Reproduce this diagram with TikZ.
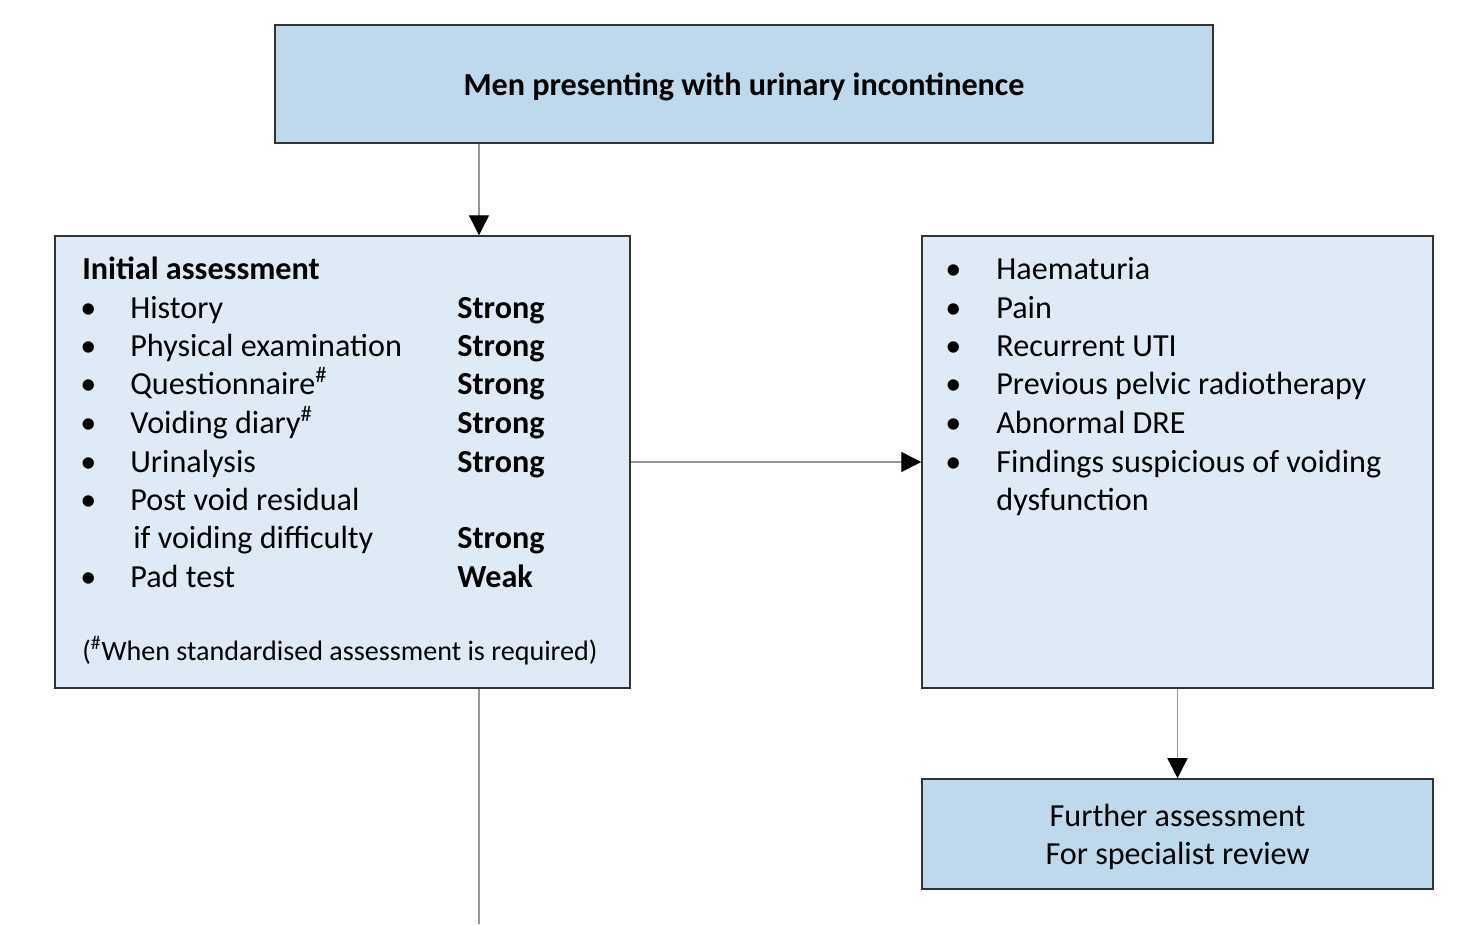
\documentclass[tikz,border=0pt]{standalone}
\usepackage{fontspec}
\setmainfont{Carlito}
\usepackage{tikz}
\usetikzlibrary{arrows.meta}

\definecolor{boxdark}{RGB}{190,216,236}
\definecolor{boxlight}{RGB}{222,234,246}
\definecolor{edgegray}{RGB}{51,51,51}
\definecolor{linegray}{RGB}{150,150,150}

\tikzset{
    box/.style={draw=edgegray, line width=0.9pt, inner sep=0pt},
    arr/.style={draw=linegray, line width=0.8pt, -{Triangle[length=0.4cm, width=0.4cm, black]}},
    item/.style={anchor=base west, inner sep=0pt, font=\fontsize{18.3}{21.6}\selectfont},
    grade/.style={item, font=\fontsize{18.3}{21.6}\selectfont\bfseries},
}

\begin{document}
\begin{tikzpicture}[x=0.02cm, y=-0.02cm]
    \useasboundingbox (0,0) rectangle (1462,924);

    % boxes
    \node [box, fill=boxdark, minimum width=18.76cm, minimum height=2.36cm, text depth=0pt,
        font=\fontsize{18.3}{21.6}\selectfont\bfseries] (top) at (744,84) {Men presenting with urinary incontinence};
    \node [box, fill=boxlight, minimum width=11.5cm, minimum height=9.04cm] (initial) at (342.5,462) {};
    \node [box, fill=boxlight, minimum width=10.22cm, minimum height=9.04cm] (flags) at (1177.5,462) {};
    \node [box, fill=boxdark, minimum width=10.22cm, minimum height=2.2cm, align=center, text depth=0pt,
        font=\fontsize{18.3}{21.6}\selectfont] (review) at (1177.5,834) {Further assessment\\For specialist review};

    % initial assessment list
    \node [grade] (title) at (82,279) {Initial assessment};
    \node [item] (b1) at (80,318) {\textbullet};  \node [item] (t1) at (130,318) {History};  \node [grade] (g1) at (457,318) {Strong};
    \node [item] (b2) at (80,356) {\textbullet};  \node [item] (t2) at (130,356) {Physical examination};  \node [grade] (g2) at (457,356) {Strong};
    \node [item] (b3) at (80,394) {\textbullet};  \node [item] (t3) at (130,394) {Questionnaire\textsuperscript{\#}};  \node [grade] (g3) at (457,394) {Strong};
    \node [item] (b4) at (80,433) {\textbullet};  \node [item] (t4) at (130,433) {Voiding diary\textsuperscript{\#}};  \node [grade] (g4) at (457,433) {Strong};
    \node [item] (b5) at (80,472) {\textbullet};  \node [item] (t5) at (130,472) {Urinalysis};  \node [grade] (g5) at (457,472) {Strong};
    \node [item] (b6) at (80,510) {\textbullet};  \node [item] (t6) at (130,510) {Post void residual};
    \node [item] (t6b) at (133,548) {if voiding difficulty};  \node [grade] (g6) at (457,548) {Strong};
    \node [item] (b7) at (80,587) {\textbullet};  \node [item] (t7) at (130,587) {Pad test};  \node [grade] (g7) at (457,587) {Weak};
    \node [item, font=\fontsize{16}{19}\selectfont] (note) at (82,660) {(\textsuperscript{\#}When standardised assessment is required)};

    % red flags list
    \node [item] (r1) at (945,279) {\textbullet};  \node [item] (s1) at (996,279) {Haematuria};
    \node [item] (r2) at (945,318) {\textbullet};  \node [item] (s2) at (996,318) {Pain};
    \node [item] (r3) at (945,356) {\textbullet};  \node [item] (s3) at (996,356) {Recurrent UTI};
    \node [item] (r4) at (945,394) {\textbullet};  \node [item] (s4) at (996,394) {Previous pelvic radiotherapy};
    \node [item] (r5) at (945,433) {\textbullet};  \node [item] (s5) at (996,433) {Abnormal DRE};
    \node [item] (r6) at (945,472) {\textbullet};  \node [item] (s6) at (996,472) {Findings suspicious of voiding};
    \node [item] (s6b) at (996,510) {dysfunction};

    % connectors
    \coordinate (col) at (479,0);
    \coordinate (exit) at (479,924);
    \draw [arr] (top.south -| col) -- (initial.north -| col);
    \draw [arr] (initial.east) -- (flags.west);
    \draw [arr] (flags.south) -- (review.north);
    \draw [draw=linegray, line width=0.8pt] (initial.south -| exit) -- (exit);
\end{tikzpicture}
\end{document}
